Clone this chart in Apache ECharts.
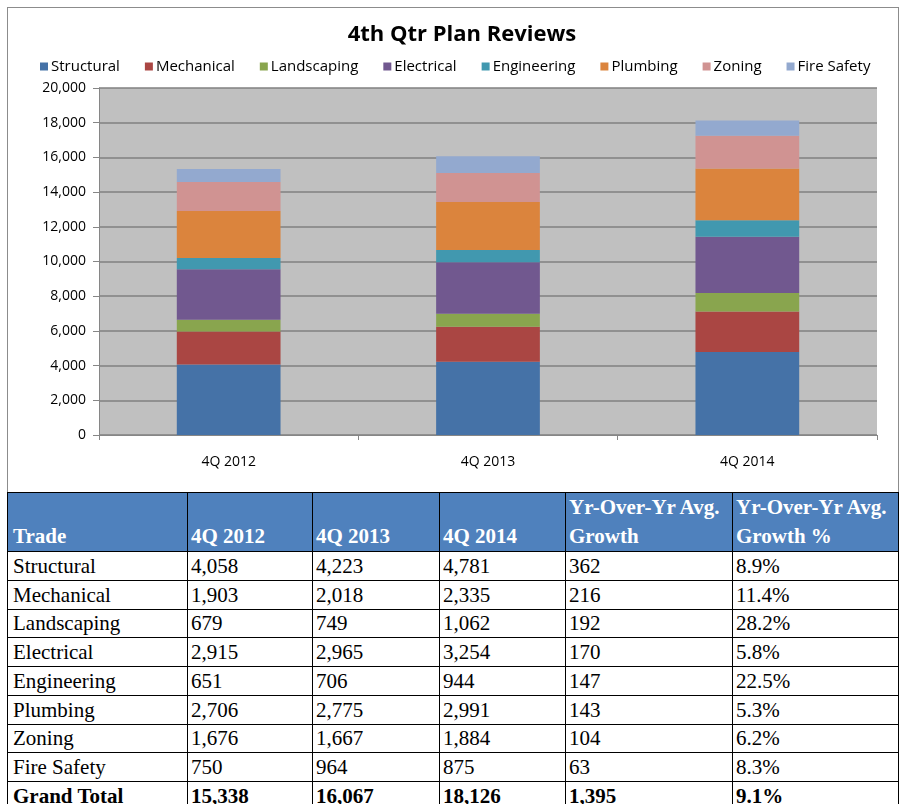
<!DOCTYPE html>
<html>
<head>
<meta charset="utf-8">
<script src="https://cdn.jsdelivr.net/npm/echarts@6/dist/echarts.min.js"></script>
<style>
    body { margin: 0; background: #fff; width: 899px; height: 804px; overflow: hidden; position: relative; }
    #chart-box { position: absolute; left: 7px; top: 7px; width: 890px; height: 484px; border: 1px solid #8c8c8c; }
    #chart { width: 890px; height: 484px; }
    #review-table { position: absolute; left: 7px; top: 492px; width: 891px; border-collapse: collapse; table-layout: fixed;
        font-family: "Liberation Serif", "Times New Roman", serif; font-size: 21px; color: #000; }
    #review-table td, #review-table th { border: 1px solid #000; padding: 0 0 0 3px; text-align: left; line-height: 26px; white-space: nowrap; overflow: hidden; }
    #review-table tr { height: 28.75px; }
    #review-table tr.head { height: 59px; }
    #review-table th { background: #4f81bd; color: #fff; font-weight: bold; vertical-align: bottom; line-height: 29px; white-space: normal; }
    #review-table td:first-child, #review-table th:first-child { padding-left: 5px; }
    #review-table tr.total td { font-weight: bold; }
</style>
</head>
<body>
<div id="chart-box"><div id="chart"></div></div>
<table id="review-table"></table>
<script>
var quarters = ['4Q 2012', '4Q 2013', '4Q 2014'];
var trades = ['Structural', 'Mechanical', 'Landscaping', 'Electrical', 'Engineering', 'Plumbing', 'Zoning', 'Fire Safety'];
var q2012 = [4058, 1903, 679, 2915, 651, 2706, 1676, 750];
var q2013 = [4223, 2018, 749, 2965, 706, 2775, 1667, 964];
var q2014 = [4781, 2335, 1062, 3254, 944, 2991, 1884, 875];
var avgGrowth = [362, 216, 192, 170, 147, 143, 104, 63];
var avgGrowthPct = [8.9, 11.4, 28.2, 5.8, 22.5, 5.3, 6.2, 8.3];
var totals = [15338, 16067, 18126, 1395, 9.1];
var tradeColors = ['#4572a7', '#aa4643', '#89a54e', '#71588f', '#4198af', '#db843d', '#d09392', '#93a9cf'];
var headers = ['Trade', '4Q 2012', '4Q 2013', '4Q 2014', 'Yr-Over-Yr Avg. Growth', 'Yr-Over-Yr Avg. Growth %'];
var colWidths = [180, 125, 127, 126, 167, 166];

function fmt(n) {
    return String(n).replace(/\B(?=(\d{3})+(?!\d))/g, ',');
}

var series = trades.map(function (name, i) {
    return {
        name: name,
        type: 'bar',
        stack: 'total',
        barWidth: '40%',
        itemStyle: {color: tradeColors[i]},
        data: [q2012[i], q2013[i], q2014[i]]
    };
});

var option = {
    animation: false,
    textStyle: {fontFamily: '"Open Sans", Lato, sans-serif'},
    title: {
        text: '4th Qtr Plan Reviews',
        left: 454,
        top: 16,
        textAlign: 'center',
        padding: 0,
        textStyle: {fontSize: 22, fontWeight: 'bold', color: '#000', fontFamily: '"Open Sans", sans-serif'}
    },
    legend: {
        data: trades,
        left: 32,
        top: 51,
        padding: 0,
        itemWidth: 8,
        itemHeight: 8,
        itemGap: 25,
        icon: 'rect',
        textStyle: {fontSize: 15, color: '#000', padding: [0, 0, 0, -2]}
    },
    grid: {left: 91, right: 21, top: 80, bottom: 57, containLabel: false,
        show: true, backgroundColor: '#c0c0c0', borderWidth: 0},
    xAxis: {
        type: 'category',
        data: quarters,
        axisLine: {lineStyle: {color: '#868686', width: 1}},
        axisTick: {show: true, length: 5, lineStyle: {color: '#868686'}},
        axisLabel: {fontSize: 14, color: '#000', margin: 20}
    },
    yAxis: {
        type: 'value',
        min: 0,
        max: 20000,
        interval: 2000,
        axisLine: {show: true, lineStyle: {color: '#868686', width: 1}},
        axisTick: {show: true, inside: false, length: 6, lineStyle: {color: '#868686'}},
        axisLabel: {fontSize: 14, color: '#000', margin: 13, formatter: function (v) { return fmt(v); }},
        splitLine: {lineStyle: {color: '#808080', width: 1.5}}
    },
    series: series
};

var chart = echarts.init(document.getElementById('chart'));
chart.setOption(option);

// table below the chart
var table = document.getElementById('review-table');
var html = '<colgroup>' + colWidths.map(function (w) { return '<col style="width:' + w + 'px">'; }).join('') + '</colgroup>';
html += '<tr class="head">' + headers.map(function (h) { return '<th>' + h + '</th>'; }).join('') + '</tr>';
trades.forEach(function (t, i) {
    html += '<tr><td>' + t + '</td><td>' + fmt(q2012[i]) + '</td><td>' + fmt(q2013[i]) + '</td><td>' +
        fmt(q2014[i]) + '</td><td>' + fmt(avgGrowth[i]) + '</td><td>' + avgGrowthPct[i].toFixed(1) + '%</td></tr>';
});
html += '<tr class="total"><td>Grand Total</td><td>' + fmt(totals[0]) + '</td><td>' + fmt(totals[1]) + '</td><td>' +
    fmt(totals[2]) + '</td><td>' + fmt(totals[3]) + '</td><td>' + totals[4].toFixed(1) + '%</td></tr>';
table.innerHTML = html;
</script>
</body>
</html>
